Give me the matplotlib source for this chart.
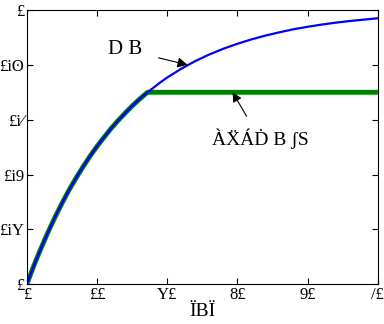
import matplotlib
matplotlib.use("Agg")
import matplotlib.pyplot as plt

# data
x_vals = [0, 1, 2, 3, 4, 5, 6, 7, 8, 9, 10, 11, 12, 13, 14, 15, 16, 17, 18, 19, 20,
          22, 24, 26, 28, 30, 32, 34, 36, 38, 40, 42, 44, 46, 48, 50]
blue_vals = [0, 0.068, 0.130, 0.189, 0.244, 0.295, 0.343, 0.387, 0.428, 0.467, 0.503, 0.536,
             0.568, 0.597, 0.624, 0.650, 0.674, 0.696, 0.716, 0.736, 0.754,
             0.786, 0.814, 0.838, 0.859, 0.877, 0.893, 0.907, 0.919, 0.930, 0.939,
             0.947, 0.954, 0.960, 0.965, 0.970]
green_x = [0, 1, 2, 3, 4, 5, 6, 7, 8, 9, 10, 11, 12, 13, 14, 15, 16, 17, 17.2, 50]
green_vals = [0, 0.068, 0.130, 0.189, 0.244, 0.295, 0.343, 0.387, 0.428, 0.467, 0.503, 0.536,
              0.568, 0.597, 0.624, 0.650, 0.674, 0.696, 0.70, 0.70]

xticks = [0, 10, 20, 30, 40, 50]
xtick_labels = ["£", "££", "Y£", "8£", "9£", "/£"]
yticks = [0, 0.2, 0.4, 0.6, 0.8, 1.0]
ytick_labels = ["£", "£iY", "£i9", "£i⁄", "£iʘ", "£"]
xlabel_text = "ÏBÏ"
ann1_text = "D B"
ann2_text = "ÀẌÁḊ B ʃS"

plt.rcParams['font.family'] = ['Liberation Serif', 'DejaVu Serif']

fig = plt.figure(figsize=(3.84, 3.24), dpi=100)
ax = fig.add_axes([0.070, 0.123, 0.914, 0.846])

ax.plot(green_x, green_vals, color='#008000', lw=3.5, solid_capstyle='butt')
ax.plot(x_vals, blue_vals, color='#0000ff', lw=1.6)

ax.set_xlim(0, 50)
ax.set_ylim(0, 1)
ax.set_xticks(xticks)
ax.set_xticklabels(xtick_labels)
ax.set_yticks(yticks)
ax.set_yticklabels(ytick_labels)
ax.tick_params(direction='in', top=True, right=True, length=4, labelsize=12, pad=2)
ax.set_xlabel(xlabel_text, fontsize=14, labelpad=0)

ax.annotate(ann1_text, xy=(22.9, 0.80), xytext=(14.0, 0.855), fontsize=15,
            ha='center', va='center',
            arrowprops=dict(arrowstyle='-|>', color='black', lw=0.8, shrinkA=10, shrinkB=0))
ax.annotate(ann2_text, xy=(29.3, 0.70), xytext=(33.2, 0.53), fontsize=14,
            ha='center', va='center',
            arrowprops=dict(arrowstyle='-|>', color='black', lw=0.8, shrinkA=8, shrinkB=0))

fig.savefig("out.png", dpi=100)
